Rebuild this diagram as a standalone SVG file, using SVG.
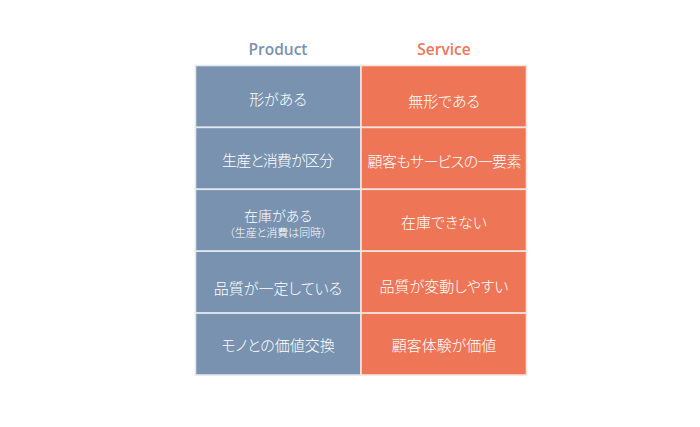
<svg xmlns="http://www.w3.org/2000/svg" width="700" height="427" viewBox="0 0 700 427">
<style>
.bg{fill:#ffffff}
.p{fill:#7892AF;stroke:#e3e8ee;stroke-width:1.6}
.s{fill:#EE7657;stroke:#f6e4de;stroke-width:1.6}
.hp{font-family:"Open Sans","Liberation Sans",sans-serif;font-weight:600;font-size:15.5px;fill:#7892AF;text-anchor:middle}
.hs{font-family:"Open Sans","Liberation Sans",sans-serif;font-weight:600;font-size:15.5px;fill:#EE7657;text-anchor:middle}
.t{font-family:"Noto Sans CJK JP",sans-serif;font-weight:300;font-size:15px;fill:#ffffff;text-anchor:middle;font-feature-settings:"palt" 1}
.sm{font-family:"Noto Sans CJK JP",sans-serif;font-weight:300;font-size:11px;fill:#ffffff;text-anchor:middle;font-feature-settings:"palt" 1}
</style>
<rect class="bg" x="0" y="0" width="700" height="427"/>
<g id="header-product"><text class="hp" x="278" y="54.5">Product</text></g>
<g id="header-service"><text class="hs" x="444" y="54.5">Service</text></g>
<g id="connectors"></g>
<g id="p1"><rect class="p" x="195.5" y="65.5" width="165.5" height="61.9"/><text class="t" x="278" y="104.5">形がある</text></g>
<g id="s1"><rect class="s" x="361" y="65.5" width="165.5" height="61.9"/><text class="t" x="444" y="107">無形である</text></g>
<g id="p2"><rect class="p" x="195.5" y="127.4" width="165.5" height="61.9"/><text class="t" x="278" y="166" textLength="112" lengthAdjust="spacing">生産と消費が区分</text></g>
<g id="s2"><rect class="s" x="361" y="127.4" width="165.5" height="61.9"/><text class="t" x="444.5" y="167" textLength="154" lengthAdjust="spacing">顧客もサービスの一要素</text></g>
<g id="p3"><rect class="p" x="195.5" y="189.3" width="165.5" height="61.9"/><text class="t" x="278" y="220.5" style="font-size:14px">在庫がある</text><text class="sm" x="278" y="236.5">（生産と消費は同時）</text></g>
<g id="s3"><rect class="s" x="361" y="189.3" width="165.5" height="61.9"/><text class="t" x="444" y="227.5">在庫できない</text></g>
<g id="p4"><rect class="p" x="195.5" y="251.2" width="165.5" height="61.9"/><text class="t" x="278" y="293.5">品質が一定している</text></g>
<g id="s4"><rect class="s" x="361" y="251.2" width="165.5" height="61.9"/><text class="t" x="444" y="291.5">品質が変動しやすい</text></g>
<g id="p5"><rect class="p" x="195.5" y="313.1" width="165.5" height="61.9"/><text class="t" x="278" y="350.5">モノとの価値交換</text></g>
<g id="s5"><rect class="s" x="361" y="313.1" width="165.5" height="61.9"/><text class="t" x="444" y="351">顧客体験が価値</text></g>
</svg>
